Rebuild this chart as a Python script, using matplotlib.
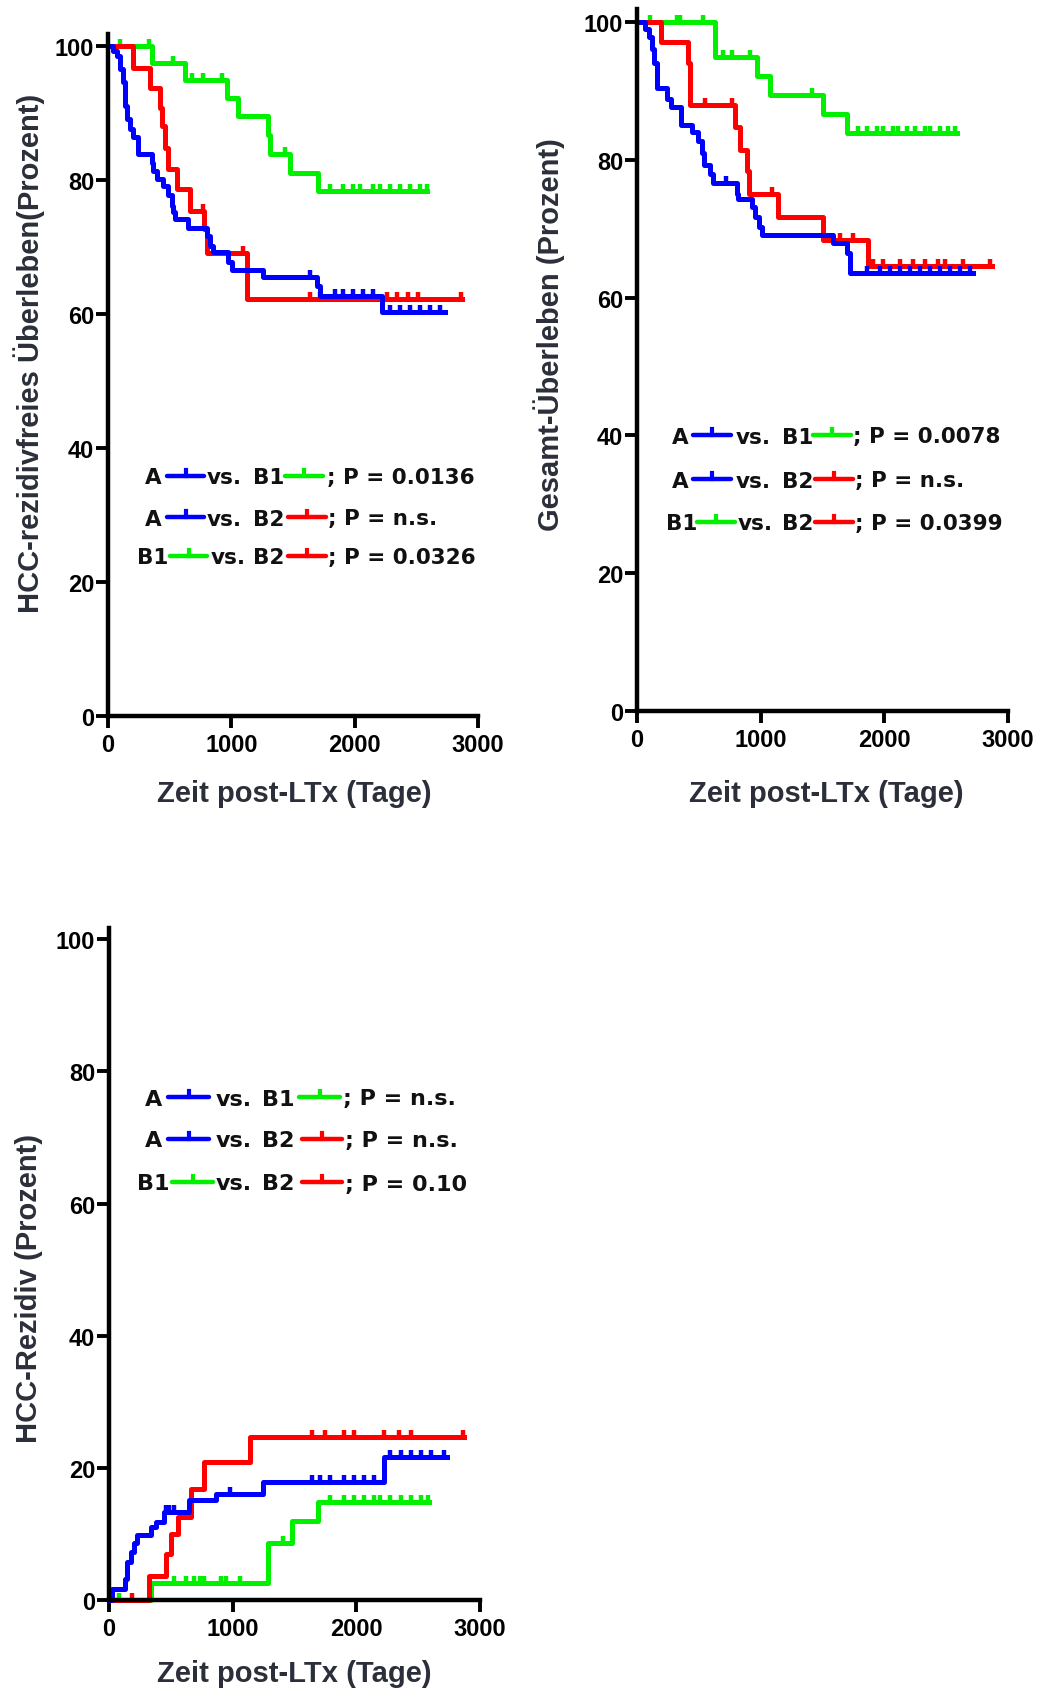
import numpy as np
import matplotlib
matplotlib.use("Agg")
import matplotlib.pyplot as plt
from matplotlib.lines import Line2D
from matplotlib.path import Path

# --- data: Kaplan-Meier steps (Tage, Prozent) and censoring times ---
# HCC-rezidivfreies Ueberleben
rfs_a_t = [0, 43, 70, 97, 124, 138, 151, 178, 205, 246, 354, 367, 395, 449, 489, 516,
           530, 543, 651, 800, 827, 854, 976, 1003, 1260, 1692, 1719, 2219, 2732]
rfs_a_s = [100, 99.3, 98.5, 96.6, 94.6, 91.1, 89.1, 87.6, 86.4, 83.9, 82.6, 81.4, 80.1,
           79.1, 77.7, 76.2, 75.2, 74.2, 72.9, 71.7, 70.2, 69.2, 67.7, 66.5, 65.5, 64.2,
           62.7, 60.3, 60.3]
rfs_a_c = [1638, 1840, 1908, 1989, 2070, 2151, 2286, 2367, 2449, 2530, 2611, 2692]

rfs_b1_t = [0, 354, 624, 962, 1057, 1295, 1310, 1476, 1700, 2589]
rfs_b1_s = [100, 97.5, 95.0, 92.2, 89.5, 86.7, 83.9, 81.1, 78.3, 78.3]
rfs_b1_c = [97, 335, 530, 678, 773, 922, 1435, 1800, 1908, 1989, 2043, 2151, 2205,
            2286, 2367, 2449, 2530, 2584]

rfs_b2_t = [0, 200, 340, 422, 436, 463, 489, 557, 665, 780, 800, 1124, 2868]
rfs_b2_s = [100, 96.7, 93.8, 90.8, 88.1, 84.8, 81.6, 78.7, 75.4, 72.7, 69.1, 62.2, 62.2]
rfs_b2_c = [773, 1097, 1638, 1719, 2259, 2340, 2435, 2516, 2860]

# Gesamt-Ueberleben
os_a_t = [0, 65, 100, 119, 140, 159, 164, 240, 272, 356, 442, 496, 523, 542, 590, 617,
          806, 819, 927, 954, 989, 1008, 1588, 1695, 1722, 2720]
os_a_s = [100, 99.0, 97.8, 96.1, 94.0, 92.3, 90.4, 88.9, 87.7, 85.1, 84.1, 82.7, 81.0,
          79.3, 77.9, 76.7, 75.0, 74.3, 73.1, 71.7, 70.3, 69.1, 67.9, 66.5, 63.6, 63.6]
os_a_c = [720, 1857, 1965, 2046, 2127, 2208, 2289, 2370, 2451, 2532, 2613, 2694]

os_b1_t = [0, 631, 968, 1075, 1501, 1701, 2585]
os_b1_s = [100, 94.9, 92.2, 89.4, 86.6, 83.9, 83.9]
os_b1_c = [105, 321, 348, 536, 698, 766, 914, 1412, 1790, 1857, 1938, 1992, 2073, 2114,
           2181, 2249, 2330, 2370, 2451, 2518, 2572]

os_b2_t = [0, 194, 415, 425, 792, 833, 887, 908, 1143, 1501, 1870, 2868]
os_b2_s = [100, 97.1, 94.0, 88.0, 84.8, 81.5, 78.4, 75.0, 71.7, 68.3, 64.6, 64.6]
os_b2_c = [550, 766, 1089, 1574, 1642, 1749, 1911, 1992, 2127, 2235, 2330, 2437, 2491,
           2640, 2856]

# HCC-Rezidiv (kumulativ)
rec_a_t = [0, 27, 130, 149, 176, 203, 230, 339, 379, 447, 650, 867, 1247, 2222, 2732]
rec_a_s = [0, 1.7, 3.2, 5.7, 7.2, 8.7, 9.8, 11.0, 11.8, 13.3, 15.1, 16.1, 17.8, 21.6, 21.6]
rec_a_c = [461, 488, 528, 976, 1640, 1707, 1789, 1897, 1978, 2060, 2141, 2276, 2358,
           2439, 2520, 2602, 2710]

rec_b1_t = [0, 339, 1287, 1477, 1688, 2588]
rec_b1_s = [0, 2.6, 8.7, 12.0, 14.9, 14.9]
rec_b1_c = [81, 528, 623, 691, 732, 772, 908, 949, 1057, 1409, 1789, 1897, 1978, 2060,
            2141, 2195, 2276, 2358, 2439, 2520, 2580]

rec_b2_t = [0, 325, 461, 501, 555, 664, 772, 1138, 2873]
rec_b2_s = [0, 3.7, 7.0, 10.0, 12.5, 16.8, 20.9, 24.6, 24.6]
rec_b2_c = [190, 1640, 1748, 1897, 1978, 2222, 2344, 2439, 2859]

x_ticks = [0, 1000, 2000, 3000]
y_ticks = [0, 20, 40, 60, 80, 100]
x_label = "Zeit post-LTx (Tage)"
y_labels = ["HCC-rezidivfreies Überleben(Prozent)", "Gesamt-Überleben (Prozent)",
            "HCC-Rezidiv (Prozent)"]
p_rfs = ["0.0136", "n.s.", "0.0326"]
p_os = ["0.0078", "n.s.", "0.0399"]
p_rec = ["n.s.", "n.s.", "0.10"]

BLUE, GREEN, RED = "#0000ff", "#00f000", "#ff0000"
LABEL_COL = "#2b2f3a"

plt.rcParams["font.family"] = ["Liberation Sans", "DejaVu Sans"]
plt.rcParams["font.weight"] = "bold"

W, H = 1037, 1690
fig = plt.figure(figsize=(W / 100, H / 100), dpi=100)

tick_mark = Path([(0, 0), (0, 1)], [Path.MOVETO, Path.LINETO])


def fx(px):
    return px / W


def fy(py):
    return 1 - py / H


def make_axes(left, right, bottom, top, ytop):
    ax = fig.add_axes([fx(left), fy(bottom), (right - left) / W, (bottom - top) / H])
    ax.set_xlim(0, 3000)
    ax.set_ylim(0, ytop)
    ax.set_xticks(x_ticks)
    ax.set_yticks(y_ticks)
    for s in ["top", "right"]:
        ax.spines[s].set_visible(False)
    for s in ["left", "bottom"]:
        ax.spines[s].set_linewidth(3.2)
    ax.tick_params(direction="out", length=8.5, width=2.8, labelsize=17)
    ax.tick_params(axis="x", pad=4)
    ax.tick_params(axis="y", pad=1.5)
    for lab in ax.get_xticklabels() + ax.get_yticklabels():
        lab.set_fontweight("bold")
    return ax


def km(ax, t, s, cens, color):
    t = np.asarray(t, float)
    s = np.asarray(s, float)
    ax.step(t, s, where="post", color=color, lw=3.6, clip_on=False)
    idx = np.searchsorted(t, cens, side="right") - 1
    ax.plot(cens, s[idx], ls="none", marker=tick_mark, ms=10, mew=3.2,
            mec=color, clip_on=False)


def legend_sym(x0, x1, y, color):
    fig.add_artist(Line2D([fx(x0), fx(x1)], [fy(y), fy(y)], color=color, lw=3.2,
                          solid_capstyle="round", transform=fig.transFigure))
    xm = (x0 + x1) / 2
    fig.add_artist(Line2D([fx(xm), fx(xm)], [fy(y), fy(y - 6)], color=color, lw=3,
                          transform=fig.transFigure))


def legend_row(y, g1, x_g1, c1, l1, x_vs, g2, x_g2, c2, l2, p, x_p, size=15.5):
    kw = dict(fontsize=size, fontweight="bold", family="DejaVu Sans", color="#111111",
              va="baseline", ha="left")
    fig.text(fx(x_g1), fy(y + 7.5), g1, **kw)
    legend_sym(l1[0], l1[1], y, c1)
    fig.text(fx(x_vs), fy(y + 7.5), "vs.", **kw)
    fig.text(fx(x_g2), fy(y + 7.5), g2, **kw)
    legend_sym(l2[0], l2[1], y, c2)
    fig.text(fx(x_p), fy(y + 7.5), "; P = " + p, **kw)


def axis_labels(xc, xb, yx, yc, ylab):
    kw = dict(fontsize=21, fontweight="bold", color=LABEL_COL)
    fig.text(fx(xc), fy(xb), x_label, ha="center", va="baseline", **kw)
    fig.text(fx(yx), fy(yc), ylab, ha="center", va="center", rotation=90, **kw)


# panel 1: rezidivfreies Ueberleben
ax1 = make_axes(108, 478, 717, 35, 101.8)
km(ax1, rfs_b1_t, rfs_b1_s, rfs_b1_c, GREEN)
km(ax1, rfs_b2_t, rfs_b2_s, rfs_b2_c, RED)
km(ax1, rfs_a_t, rfs_a_s, rfs_a_c, BLUE)
axis_labels(294, 802, 29, 353, y_labels[0])
legend_row(477, "A", 145, BLUE, (167, 204), 207, "B1", 253, GREEN, (285, 323), p_rfs[0], 327)
legend_row(518, "A", 145, BLUE, (167, 204), 207, "B2", 253, RED, (288, 326), p_rfs[1], 328)
legend_row(557, "B1", 137, GREEN, (170, 207), 211, "B2", 253, RED, (288, 326), p_rfs[2], 328)

# panel 2: Gesamt-Ueberleben
ax2 = make_axes(637, 1008, 712, 10, 101.9)
km(ax2, os_b1_t, os_b1_s, os_b1_c, GREEN)
km(ax2, os_b2_t, os_b2_s, os_b2_c, RED)
km(ax2, os_a_t, os_a_s, os_a_c, BLUE)
axis_labels(826, 802, 549, 335, y_labels[1])
legend_row(436, "A", 672, BLUE, (693, 731), 736, "B1", 782, GREEN, (813, 851), p_os[0], 853)
legend_row(480, "A", 672, BLUE, (693, 731), 736, "B2", 782, RED, (815, 853), p_os[1], 855)
legend_row(523, "B1", 666, GREEN, (697, 735), 738, "B2", 782, RED, (815, 853), p_os[2], 855)

# panel 3: HCC-Rezidiv
ax3 = make_axes(109, 480, 1601, 929, 101.7)
km(ax3, rec_b1_t, rec_b1_s, rec_b1_c, GREEN)
km(ax3, rec_b2_t, rec_b2_s, rec_b2_c, RED)
km(ax3, rec_a_t, rec_a_s, rec_a_c, BLUE)
axis_labels(294, 1682, 29, 1288, y_labels[2])
legend_row(1098, "A", 145, BLUE, (168, 209), 216, "B1", 262, GREEN, (299, 340), p_rec[0], 343, 16)
legend_row(1140, "A", 145, BLUE, (168, 209), 216, "B2", 262, RED, (302, 342), p_rec[1], 345, 16)
legend_row(1183, "B1", 137, GREEN, (172, 213), 216, "B2", 262, RED, (302, 342), p_rec[2], 345, 16)

fig.savefig("out.png", dpi=100)
